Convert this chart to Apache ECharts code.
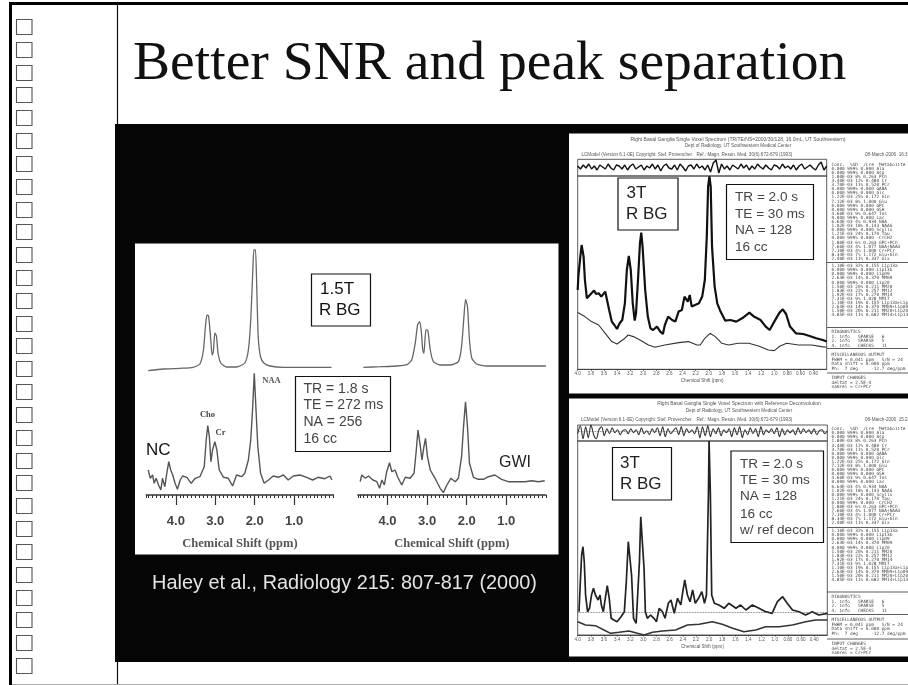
<!DOCTYPE html>
<html>
<head>
<meta charset="utf-8">
<title>Better SNR and peak separation</title>
<script src="https://cdn.jsdelivr.net/npm/echarts@6/dist/echarts.min.js"></script>
<style>
  html, body { margin: 0; padding: 0; background: #fff; overflow: hidden; }
  /* the source is a soft, low resolution scan */
  #chart { width: 908px; height: 685px; filter: blur(0.45px); }
</style>
</head>
<body>
<div id="chart"></div>
<script>
// all spectra are [ppm, height] pairs
const ncFit = [[4.70,1.3],[4.32,3],[3.89,3.7],[3.56,4.7],[3.39,8],[3.30,22],[3.25,45.3],[3.21,57],[3.17,56],[3.12,35],[3.08,17],[3.05,20],[3.01,39],[2.97,36],[2.93,19],[2.86,9],[2.71,5],[2.46,5],[2.25,9],[2.16,22],[2.10,52],[2.05,98.7],[2.02,122],[1.98,122],[1.95,88.7],[1.91,35],[1.85,15],[1.76,8.7],[1.61,6],[1.27,4.7],[0.77,4.7],[0.05,4.7]];
const ncRaw = [[4.70,25],[4.65,16.7],[4.59,20],[4.55,11.7],[4.50,16.7],[4.44,10],[4.38,5],[4.34,16.7],[4.28,8.3],[4.23,21.7],[4.18,33.3],[4.13,25],[4.08,20],[4.02,11.7],[3.96,5.7],[3.89,15],[3.83,19],[3.72,17.7],[3.61,11.7],[3.51,16.7],[3.39,18.3],[3.28,28.3],[3.23,55],[3.19,69.3],[3.15,58.3],[3.11,33.3],[3.07,45],[3.01,53.3],[2.96,45],[2.90,25],[2.79,17.7],[2.67,16.7],[2.56,9],[2.46,20],[2.33,18.3],[2.25,21.7],[2.16,35],[2.10,55],[2.05,88.3],[2.01,121.7],[1.97,88.3],[1.92,48.3],[1.85,21.7],[1.76,11.7],[1.65,15],[1.53,19],[1.40,17.7],[1.27,20],[1.15,15],[1.02,19],[0.85,20],[0.68,17.7],[0.53,15],[0.39,17.7],[0.22,16.3],[0.09,19],[0.04,15]];
const gwiFit = [[4.61,4.7],[4.18,5.3],[3.76,6],[3.51,7.3],[3.39,12],[3.30,28.7],[3.24,47],[3.19,50.3],[3.15,42],[3.11,22],[3.08,18.7],[3.03,42],[2.98,41.3],[2.92,22],[2.84,10.3],[2.67,7],[2.42,7],[2.21,10.3],[2.13,25.3],[2.07,55.3],[2.03,72.7],[1.98,65.3],[1.93,32],[1.87,13.7],[1.75,8],[1.50,6],[1.08,6],[0,6]];
const gwiRaw = [[4.69,13.3],[4.65,20],[4.56,16.7],[4.48,19],[4.37,15],[4.27,13.3],[4.20,6.7],[4.14,15],[4.08,10],[4.02,23.3],[3.95,32.3],[3.89,23.3],[3.81,25],[3.74,17.7],[3.64,10],[3.55,17.7],[3.43,16.7],[3.33,21.7],[3.28,41.7],[3.23,65],[3.18,51.7],[3.13,35],[3.08,48.3],[3.04,56.7],[2.99,38.3],[2.92,25],[2.80,16.7],[2.67,6.7],[2.59,2.3],[2.50,10],[2.40,16.7],[2.29,13.3],[2.21,16.7],[2.13,38.3],[2.08,68.3],[2.03,93.3],[1.98,68.3],[1.93,31.7],[1.83,17.7],[1.71,15.7],[1.58,15.7],[1.45,18.3],[1.29,20],[1.12,15.7],[0.95,13.3],[0.74,13.3],[0.53,13.3],[0.36,14.3],[0.19,13.3],[0.03,14.3]];

const topSpectrum = [[4.0,79.3],[3.99,92.7],[3.96,112.7],[3.94,124.3],[3.91,112.7],[3.89,89.3],[3.86,71],[3.83,69.3],[3.79,76],[3.75,78.7],[3.72,75.3],[3.68,76],[3.64,72.7],[3.61,71],[3.58,77.7],[3.55,76],[3.52,59.3],[3.48,47.7],[3.44,44.3],[3.40,40.3],[3.36,46],[3.32,49.3],[3.28,66],[3.25,99.3],[3.22,113.3],[3.19,99.3],[3.16,66],[3.13,48.7],[3.11,56],[3.08,89.3],[3.05,126],[3.03,136.7],[3.01,122.7],[2.97,79.3],[2.93,52.7],[2.89,41],[2.85,39.3],[2.79,42.7],[2.74,37.7],[2.70,35.3],[2.67,44.3],[2.62,52.7],[2.56,49.3],[2.51,47.7],[2.46,57.7],[2.41,59.3],[2.37,72.7],[2.34,74.3],[2.32,67.7],[2.29,74.3],[2.26,62.7],[2.21,64.3],[2.15,66],[2.10,72.7],[2.06,89.3],[2.03,132.7],[2.01,182.7],[1.99,193],[1.97,182.7],[1.95,122.7],[1.91,82.7],[1.87,66],[1.82,57.7],[1.75,48.7],[1.67,49.3],[1.58,47.7],[1.49,51],[1.38,56.7],[1.31,52.7],[1.21,49.3],[1.13,42.7],[1.07,39.3],[1.00,47.7],[0.92,56.7],[0.87,60],[0.82,55.3],[0.76,42.7],[0.67,36],[0.56,35.3],[0.46,33.3],[0.36,31],[0.26,29.3],[0.2,27.7]];
const topBackground = [[4.0,56.7],[3.89,52.7],[3.79,47.7],[3.68,44.3],[3.58,36],[3.48,27.7],[3.40,25.3],[3.30,30],[3.23,34.3],[3.15,32.7],[3.05,29.3],[2.92,24.3],[2.82,22],[2.67,24.3],[2.46,26.7],[2.31,27.7],[2.18,24.3],[2.13,24.3],[2.06,31],[1.98,36],[1.90,32.7],[1.80,26],[1.70,24.3],[1.55,26],[1.39,26],[1.24,23.3],[1.09,19.3],[1.00,18.7],[0.91,23.3],[0.81,26],[0.63,24.3],[0.43,24.3],[0.28,22.7],[0.2,22]];
const topResidual = [1,-2,2,-1,3,-2,1,-3,2,0,-2,3,-1,-3,2,1,-2,2,-3,1,3,-2,0,2,-3,1,-1,3,-2,2,-4,1,3,-1,-2,2,-3,3,0,-4,1,2,-2,3,-1,1,-3,2,-5,4,7,-6,3,-2,1,-3,2,0,-2,3,-1,2,-3,1,-2,3,0,-2,2,-1,-3,2,1,-2,3,-1,1,-2,2,-3,1,3,-2,0,2,-1,-3,2,5,-3,1];

const bottomSpectrum = [[3.98,23.3],[3.96,53.3],[3.94,80],[3.92,88.3],[3.90,73.3],[3.88,40],[3.85,23.3],[3.82,26.7],[3.79,40],[3.76,46.7],[3.73,40],[3.69,35],[3.66,40],[3.64,30],[3.61,23.3],[3.58,36.7],[3.55,49.3],[3.52,36.7],[3.49,16.7],[3.45,15],[3.40,13.3],[3.34,18.3],[3.29,23.3],[3.26,53.3],[3.23,93.3],[3.20,94],[3.18,60],[3.15,16.7],[3.11,11.7],[3.08,10],[3.06,73.3],[3.04,118.3],[3.01,116.7],[2.99,66.7],[2.97,23.3],[2.94,16.7],[2.89,20],[2.84,16.7],[2.80,13.3],[2.76,26.7],[2.71,23.3],[2.67,16.7],[2.62,31.7],[2.58,35],[2.53,21.7],[2.48,36.7],[2.43,30],[2.40,43.3],[2.37,55],[2.33,40],[2.29,33.3],[2.25,45],[2.21,31.7],[2.16,36.7],[2.11,43.3],[2.07,31.7],[2.04,40],[2.01,140],[2.00,194],[1.98,140],[1.96,40],[1.92,31.7],[1.85,30],[1.77,26.7],[1.70,31.7],[1.59,26.7],[1.52,30],[1.44,25],[1.34,30],[1.24,26.7],[1.14,23.3],[1.04,21.7],[0.96,33.3],[0.88,38.3],[0.81,31.7],[0.73,25],[0.63,23.3],[0.53,20],[0.43,23.3],[0.33,20],[0.2,21.7]];
const bottomBackground = [[4.0,13.3],[3.88,10],[3.73,9.3],[3.60,5],[3.50,1.7],[3.37,2.7],[3.22,4],[3.09,1.7],[2.99,0],[2.86,2.7],[2.71,4],[2.51,5],[2.33,10],[2.15,10.7],[1.95,13.3],[1.80,10.7],[1.64,6.7],[1.47,3.3],[1.29,5],[1.14,8.3],[0.93,8.3],[0.73,10],[0.53,13.3],[0.38,15],[0.2,15]];
const bottomResidual = [-2,6,-7,5,-6,7,-3,-7,2,5,-4,3,-2,4,-1,2,-3,1,2,-2,3,-1,2,-3,4,-2,1,-3,3,-1,4,-4,5,-5,3,-2,1,4,-3,5,-4,3,-1,2,-2,5,-6,5,-4,6,-5,3,-2,4,-4,2,-1,3,-5,4,-3,5,-6,2,-3,4,-2,3,-5,5,-3,2,-1,3,-2,4,-5,3,-3,2,-1,2,-3,4,-2,3,-1,2,-2,3,-3,1,2,-2,1];

const leftTicks = [1, 2, 3, 4];
const concRows = ['Conc.  %SD  /Cre  Metabolite','0.000 999% 0.000 Ala','0.000 999% 0.000 Asp','1.80E-03 8% 0.263 PCh','3.40E-03 12% 0.480 Cr','3.70E-03 11% 0.520 PCr','0.000 999% 0.000 GABA','0.000 999% 0.000 Glc','1.22E-03 25% 0.172 Gln','7.12E-03 8% 1.000 Glu','0.000 999% 0.000 GPC','0.000 999% 0.000 GSH','4.60E-03 9% 0.647 Ins','0.000 999% 0.000 Lac','6.64E-03 4% 0.934 NAA','1.02E-03 18% 0.143 NAAG','0.000 999% 0.000 Scyllo','1.21E-03 24% 0.170 Tau','0.000 999% 0.000 -CrCH2','1.80E-03 6% 0.263 GPC+PCh','7.66E-03 4% 1.077 NAA+NAAG','7.10E-03 4% 1.000 Cr+PCr','8.34E-03 7% 1.172 Glu+Gln','2.40E-03 11% 0.337 Glx'];
const lipidRows = ['1.10E-03 32% 0.155 Lip13a','0.000 999% 0.000 Lip13b','0.000 999% 0.000 Lip09','2.63E-03 14% 0.370 MM09','0.000 999% 0.000 Lip20','1.50E-03 20% 0.211 MM20','1.83E-03 22% 0.257 MM12','1.92E-03 17% 0.270 MM14','7.31E-03 9% 1.028 MM17','1.10E-03 19% 0.155 Lip13a+Lip13b','2.63E-03 14% 0.370 MM09+Lip09','1.50E-03 20% 0.211 MM20+Lip20','4.85E-03 11% 0.682 MM14+Lip13'];
const diagRows = ['DIAGNOSTICS','1. info   SPARSE   6','2. info   SPARSE   5','4. info   CHECKS   11'];
const miscRows = ['MISCELLANEOUS OUTPUT','FWHM = 0.041 ppm   S/N = 24','Data shift = 0.000 ppm','Ph:  7 deg     -12.7 deg/ppm'];
const inputRows = ['INPUT CHANGES','deltat = 2.5E-4','namrel = Cr+PCr'];

const serif = '"Liberation Serif", serif';
const sans = '"Liberation Sans", sans-serif';
const mono = '"DejaVu Sans Mono", monospace';

function rect(x, y, w, h, fill, z) {
  return { type: 'rect', z: z, shape: { x: x, y: y, width: w, height: h }, style: { fill: fill } };
}
function box(x, y, w, h) {
  return { type: 'rect', z: 10, shape: { x: x, y: y, width: w, height: h }, style: { fill: '#fff', stroke: '#111', lineWidth: 1.2 } };
}
function label(x, y, text, font, fill, align) {
  return { type: 'text', z: 11, style: { x: x, y: y, text: text, font: font, fill: fill || '#222', align: align || 'left', verticalAlign: 'middle' } };
}
function line(x1, y1, x2, y2, color, width) {
  return { type: 'line', z: 1, shape: { x1: x1, y1: y1, x2: x2, y2: y2 }, style: { stroke: color, lineWidth: width } };
}
function rows(x, y, list, step) {
  return { type: 'text', z: 5, style: { x: x, y: y, text: list.join('\n'), font: '4.4px ' + mono, lineHeight: step, fill: '#444', align: 'left', verticalAlign: 'top' } };
}

const graphics = [
  rect(115, 124, 793, 538, '#050505', -3),
  rect(135, 243.5, 423.5, 311, '#fff', -2),
  rect(569, 133.5, 339, 260, '#fff', -2),
  rect(569, 398.5, 339, 258, '#fff', -2),
  rect(9, 2, 899, 3, '#000', 1),
  rect(9, 2, 3, 683, '#000', 1),
  line(117.5, 5, 117.5, 124, '#111', 1.2),
  line(117.5, 662, 117.5, 685, '#111', 1.2),
  line(12, 684.5, 908, 684.5, '#aaa', 1),
  label(133, 64, 'Better SNR and peak separation', '55.6px ' + serif, '#111'),
  label(344.5, 583.5, 'Haley et al., Radiology 215: 807-817 (2000)', '19.9px ' + sans, '#e4e4e4', 'center'),

  // left panel labels
  box(311.5, 274, 59, 52),
  label(320, 289.5, '1.5T', '17px ' + sans, '#111'),
  label(319, 310, 'R BG', '17px ' + sans, '#111'),
  box(295.5, 376.5, 95, 75),
  label(303.5, 389.5, 'TR = 1.8 s', '14px ' + sans, '#444'),
  label(303.5, 405.5, 'TE = 272 ms', '14px ' + sans, '#444'),
  label(303.5, 422, 'NA = 256', '14px ' + sans, '#444'),
  label(303.5, 439, '16 cc', '14px ' + sans, '#444'),
  label(271.5, 380.5, 'NAA', 'bold 8.5px ' + serif, '#555', 'center'),
  label(207.5, 414.5, 'Cho', 'bold 8.5px ' + serif, '#444', 'center'),
  label(220.5, 432.5, 'Cr', 'bold 8.5px ' + serif, '#444', 'center'),
  label(146, 450, 'NC', '17px ' + sans, '#111'),
  label(499, 462.5, 'GWI', '16px ' + sans, '#222'),

  // upper 3T panel
  label(738, 139.5, 'Right Basal Ganglia Single Voxel Spectrum (TR/TE/NS=2000/30/128, 16.0mL, UT Southwestern)', '5px ' + sans, '#555', 'center'),
  label(738, 146, 'Dept of Radiology, UT Southwestern Medical Center', '4.6px ' + sans, '#555', 'center'),
  label(581.5, 154.5, 'LCModel (Version 6.1-0E) Copyright: Stef. Provencher.', '4.6px ' + sans, '#555'),
  label(696.5, 154.5, 'Ref.: Magn. Reson. Med. 30(6):672-679 (1993)', '4.6px ' + sans, '#555'),
  label(865, 154.5, '08-March-2006  16:32', '4.6px ' + sans, '#555'),
  box(618, 178, 60, 52),
  label(626.5, 193, '3T', '17px ' + sans, '#222'),
  label(626, 214, 'R BG', '17px ' + sans, '#222'),
  box(726.5, 184.5, 87, 75),
  label(735, 197.5, 'TR = 2.0 s', '13.6px ' + sans, '#444'),
  label(735, 214, 'TE = 30 ms', '13.6px ' + sans, '#444'),
  label(735, 230.5, 'NA = 128', '13.6px ' + sans, '#444'),
  label(735, 247.5, '16 cc', '13.6px ' + sans, '#444'),
  rows(831.5, 162.5, concRows, 4.1),
  line(827, 262.5, 908, 262.5, '#333', 0.8),
  rows(831.5, 264, lipidRows, 4.1),
  line(827, 327.5, 908, 327.5, '#333', 0.8),
  rows(831.5, 330, diagRows, 4.4),
  line(827, 348.5, 908, 348.5, '#333', 0.8),
  rows(831.5, 353, miscRows, 4.5),
  line(827, 373, 908, 373, '#333', 0.8),
  rows(831.5, 376, inputRows, 4.5),

  // lower 3T panel
  label(739, 404, 'Right Basal Ganglia Single Voxel Spectrum with Reference Deconvolution', '5px ' + sans, '#555', 'center'),
  label(739, 411, 'Dept of Radiology, UT Southwestern Medical Center', '4.6px ' + sans, '#555', 'center'),
  label(581, 419.5, 'LCModel (Version 6.1-0E) Copyright: Stef. Provencher.', '4.6px ' + sans, '#555'),
  label(696.5, 419.5, 'Ref.: Magn. Reson. Med. 30(6):672-679 (1993)', '4.6px ' + sans, '#555'),
  label(865, 419.5, '08-March-2006  15:24', '4.6px ' + sans, '#555'),
  box(612.5, 447.5, 59, 52.5),
  label(620, 463.5, '3T', '17px ' + sans, '#222'),
  label(620, 484, 'R BG', '17px ' + sans, '#222'),
  box(731, 451, 92.5, 91.5),
  label(740, 464, 'TR = 2.0 s', '13.6px ' + sans, '#444'),
  label(740, 480, 'TE = 30 ms', '13.6px ' + sans, '#444'),
  label(740, 496.5, 'NA = 128', '13.6px ' + sans, '#444'),
  label(740, 514, '16 cc', '13.6px ' + sans, '#444'),
  label(740, 530, 'w/ ref decon', '13.6px ' + sans, '#444'),
  rows(831.5, 427, concRows, 4.1),
  line(827, 527.5, 908, 527.5, '#333', 0.8),
  rows(831.5, 529, lipidRows, 4.1),
  line(827, 592, 908, 592, '#333', 0.8),
  rows(831.5, 595, diagRows, 4.4),
  line(827, 614.5, 908, 614.5, '#333', 0.8),
  rows(831.5, 618, miscRows, 4.5),
  line(827, 639, 908, 639, '#333', 0.8),
  rows(831.5, 642, inputRows, 4.5)
];

// sidebar squares
for (let i = 0; i < 29; i++) {
  graphics.push({
    type: 'rect', z: 2,
    shape: { x: 16.5, y: Math.round(19 + i * 22.82) + 0.5, width: 15.5, height: 15 },
    style: { fill: '#fff', stroke: '#555', lineWidth: 1.1 }
  });
}

const grids = [
  { left: 146.3, top: 245, width: 187.2, height: 127 },
  { left: 146.3, top: 365, width: 187.2, height: 130 },
  { left: 357.8, top: 245, width: 188.1, height: 127 },
  { left: 357.8, top: 365, width: 188.1, height: 130 },
  { left: 577.7, top: 159.3, width: 249, height: 16.7, show: true, borderColor: '#333', borderWidth: 0.8 },
  { left: 577.7, top: 176, width: 249, height: 193.3, show: true, borderColor: '#333', borderWidth: 0.8 },
  { left: 577.7, top: 425, width: 249.6, height: 16, show: true, borderColor: '#333', borderWidth: 0.8 },
  { left: 577.7, top: 441, width: 249.6, height: 194, show: true, borderColor: '#333', borderWidth: 0.8 }
];

function hiddenPpm(gridIndex) {
  return { type: 'value', gridIndex: gridIndex, inverse: true, min: 0, max: 4.75, show: false };
}
function minorPpm(gridIndex) {
  return {
    type: 'value', gridIndex: gridIndex, inverse: true, min: 0, max: 4.75, interval: 0.1,
    splitLine: { show: false },
    axisLine: { show: true, onZero: false, lineStyle: { color: '#333', width: 1.5 } },
    axisTick: { show: true, length: 3, lineStyle: { color: '#333', width: 1 } },
    axisLabel: { show: false }
  };
}
function majorPpm(gridIndex) {
  return {
    type: 'value', gridIndex: gridIndex, position: 'bottom', inverse: true, min: 0, max: 4.75,
    name: 'Chemical Shift (ppm)', nameLocation: 'middle', nameGap: 42,
    nameTextStyle: { fontFamily: serif, fontWeight: 'bold', fontSize: 12.5, color: '#555' },
    splitLine: { show: false },
    axisLine: { show: false, onZero: false },
    axisTick: { show: true, length: 10, customValues: leftTicks, lineStyle: { color: '#333', width: 1.2 } },
    axisLabel: { customValues: leftTicks, margin: 20, fontFamily: sans, fontWeight: 'bold', fontSize: 13, color: '#444', formatter: v => v.toFixed(1) }
  };
}
function lcmPpm(gridIndex) {
  return {
    type: 'value', gridIndex: gridIndex, inverse: true, min: 0.2, max: 4.0, interval: 0.2,
    name: 'Chemical Shift (ppm)', nameLocation: 'middle', nameGap: 9,
    nameTextStyle: { fontFamily: sans, fontSize: 4.6, color: '#555' },
    splitLine: { show: false },
    axisLine: { show: true, onZero: false, lineStyle: { color: '#333', width: 0.8 } },
    axisTick: { show: true, length: 1.5, lineStyle: { color: '#333', width: 0.8 } },
    axisLabel: { margin: 2, fontFamily: sans, fontSize: 4.6, color: '#555', showMinLabel: false, formatter: v => v < 1 ? v.toFixed(2) : v.toFixed(1) }
  };
}
function stripAxis(gridIndex, values) {
  return { type: 'category', gridIndex: gridIndex, show: false, boundaryGap: false, data: values.map((v, i) => i) };
}
function heightAxis(gridIndex, min, max) {
  return { type: 'value', gridIndex: gridIndex, min: min, max: max, show: false, splitLine: { show: false } };
}
function trace(axis, data, color, width, extra) {
  return Object.assign({
    type: 'line', xAxisIndex: axis, yAxisIndex: axis, data: data, showSymbol: false, symbol: 'none',
    lineStyle: { color: color, width: width }, silent: true, animation: false
  }, extra || {});
}
function zeroLine(value, color) {
  return { silent: true, symbol: 'none', label: { show: false }, lineStyle: { color: color, width: 0.8, type: 'dotted' }, data: [{ yAxis: value }], animation: false };
}

const option = {
  animation: false,
  backgroundColor: '#fff',
  graphic: { elements: graphics },
  grid: grids,
  xAxis: [
    hiddenPpm(0), minorPpm(1), hiddenPpm(2), minorPpm(3),
    stripAxis(4, topResidual), lcmPpm(5), stripAxis(6, bottomResidual), lcmPpm(7),
    majorPpm(1), majorPpm(3)
  ],
  yAxis: [
    heightAxis(0, 0, 127), heightAxis(1, 0, 130), heightAxis(2, 0, 127), heightAxis(3, 0, 130),
    heightAxis(4, -9, 7.7), heightAxis(5, 0, 193.3), heightAxis(6, -9.3, 6.7), heightAxis(7, 0, 194)
  ],
  series: [
    trace(0, ncFit, '#666', 1.3, { smooth: 0.2 }),
    trace(1, ncRaw, '#555', 1.4),
    trace(2, gwiFit, '#666', 1.3, { smooth: 0.2 }),
    trace(3, gwiRaw, '#555', 1.4),
    trace(4, topResidual, '#111', 1.4),
    trace(5, topBackground, '#333', 1.1),
    trace(5, topSpectrum, '#111', 2.2),
    trace(6, bottomResidual, '#333', 1.1, { smooth: 0.3, markLine: zeroLine(0, '#555') }),
    trace(7, bottomBackground, '#333', 1.5),
    trace(7, bottomSpectrum, '#222', 1.7, { markLine: zeroLine(22.7, '#555') })
  ]
};

const chart = echarts.init(document.getElementById('chart'), null, { renderer: 'canvas' });
chart.setOption(option);
</script>
</body>
</html>
